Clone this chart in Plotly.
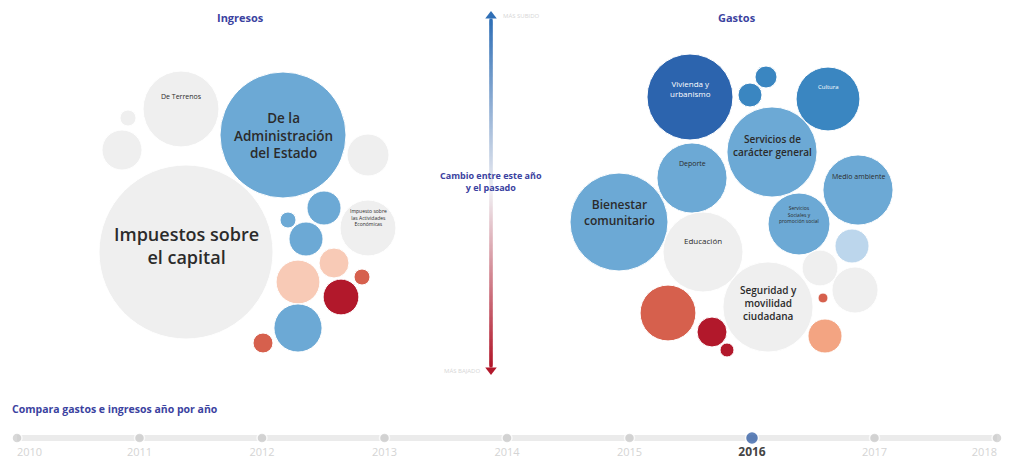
import numpy as np
import plotly.graph_objects as go

# ---------------- DATA ----------------
# Ingresos (income) bubbles: name, amount (M€), change vs previous year (%)
ing_names = ["De Terrenos", "De la<br>Administración<br>del Estado", "", "", "",
             "Impuestos sobre<br>el capital", "", "", "",
             "Impuesto sobre<br>las Actividades<br>Económicas", "", "", "", "", "", ""]
ing_amount = [14.4, 39.7, 0.64, 4.0, 4.4, 75.7, 2.9, 0.64, 2.9, 7.8, 4.8, 2.25, 0.64, 3.2, 5.8, 1.0]
ing_change = [0, 10, 0, 0, 0, 1, 10, 10, 10, 0, -3, -3, -20, -40, 10, -20]

# Gastos (spending) bubbles
gas_names = ["Vivienda y<br>urbanismo", "", "", "Cultura", "Servicios de<br>carácter general", "Deporte",
             "Medio ambiente", "Bienestar<br>comunitario", "Educación",
             "Servicios<br>Sociales y<br>promoción social", "", "", "",
             "Seguridad y<br>movilidad<br>ciudadana", "", "", "", "", ""]
gas_amount = [18.5, 1.21, 1.44, 10.2, 20.3, 12.3, 12.3, 24.0, 16.0, 9.6, 2.9, 3.2, 5.3, 20.3, 7.8, 2.25, 0.49, 0.25, 2.9]
gas_change = [40, 20, 20, 20, 10, 10, 12, 10, 0, 12, 3, 0, 0, 0, -20, -40, -40, -20, -10]

years = [2010, 2011, 2012, 2013, 2014, 2015, 2016, 2017, 2018]
selected_year = 2016

# ---------------- LAYOUT (packed-bubble positions, px) ----------------
ing_x = [181, 283, 128, 122, 368, 186, 324, 288, 306, 368, 298, 334, 362, 341, 298, 263]
ing_y = [109, 135, 118, 150, 155, 252, 208, 220, 239, 228, 282, 263, 277, 297, 328, 343]
ing_label_dy = [-13, 0, 0, 0, 0, -7, 0, 0, 0, -11, 0, 0, 0, 0, 0, 0]
ing_label_size = [7, 13.5, 0, 0, 0, 18, 0, 0, 0, 5, 0, 0, 0, 0, 0, 0]

gas_x = [690, 766, 750, 828, 772, 692, 858, 619, 703, 799, 852, 820, 855, 768, 668, 712, 727, 823, 825]
gas_y = [97, 77, 95, 99, 152, 178, 190, 222, 252, 224, 246, 268, 290, 307, 313, 332, 350, 298, 336]
gas_label_dy = [-9, 0, 0, -12, -7, -15, -14, -10, -12, -10, 0, 0, 0, -4, 0, 0, 0, 0, 0]
gas_label_size = [8, 0, 0, 6, 10, 7, 7, 12, 8, 5, 0, 0, 0, 10, 0, 0, 0, 0, 0]

RADIUS_K = 10.0  # px per sqrt(M€)

W, H = 1016, 462
OFF = 8  # page body margin
TITLE_COL = "#3b42a0"
FONT = "Open Sans"


def change_color(c):
    if c >= 30:
        return "#2c64ae"
    if c >= 15:
        return "#3a86c1"
    if c >= 5:
        return "#6ca9d5"
    if c >= 2:
        return "#bcd6ec"
    if c > -2:
        return "#efefef"
    if c > -5:
        return "#f8cab6"
    if c > -15:
        return "#f3a482"
    if c > -30:
        return "#d6604d"
    return "#b2182b"


def text_color(c):
    return "#ffffff" if c >= 15 else "#2b2b2b"


fig = go.Figure()

annotations = []
for xs, ys, amounts, changes, names, dys, sizes in [
    (ing_x, ing_y, ing_amount, ing_change, ing_names, ing_label_dy, ing_label_size),
    (gas_x, gas_y, gas_amount, gas_change, gas_names, gas_label_dy, gas_label_size),
]:
    diam = [2 * RADIUS_K * np.sqrt(a) for a in amounts]
    fig.add_trace(go.Scatter(
        x=xs, y=ys, mode="markers",
        marker=dict(size=diam, sizemode="diameter",
                    color=[change_color(c) for c in changes],
                    line=dict(color="white", width=1), opacity=1),
        hoverinfo="skip", showlegend=False))
    for x, y, n, c, dy, s in zip(xs, ys, names, changes, dys, sizes):
        if n and s:
            annotations.append(dict(
                x=x, y=y + dy, text=n, showarrow=False, xref="x", yref="y",
                font=dict(family=FONT, size=s, color=text_color(c),
                          weight=600 if s >= 9 else 400),
                align="center"))

# central gradient arrow
ay = np.linspace(20, 366, 300)
fig.add_trace(go.Scatter(
    x=[491] * len(ay), y=ay, mode="markers",
    marker=dict(symbol="square", size=3, color=ay,
                colorscale=[[0, "#2f6fb6"], [0.5, "#f0eef2"], [1, "#b2182b"]],
                line=dict(width=0)),
    hoverinfo="skip", showlegend=False))
fig.add_trace(go.Scatter(x=[491], y=[16], mode="markers",
                         marker=dict(symbol="triangle-up", size=10, color="#2f6fb6"),
                         hoverinfo="skip", showlegend=False))
fig.add_trace(go.Scatter(x=[491], y=[370], mode="markers",
                         marker=dict(symbol="triangle-down", size=10, color="#b2182b"),
                         hoverinfo="skip", showlegend=False))

# timeline on its own year axis
fig.add_trace(go.Scatter(
    x=[years[0], years[-1]], y=[438, 438], mode="lines", xaxis="x2",
    line=dict(color="#ebebeb", width=6), hoverinfo="skip", showlegend=False))
fig.add_trace(go.Scatter(
    x=years, y=[438] * len(years), mode="markers", xaxis="x2",
    marker=dict(size=[13 if yv == selected_year else 10 for yv in years],
                color=["#1f4f9e" if yv == selected_year else "#c8c8c8" for yv in years],
                line=dict(color="white", width=1.5)),
    hoverinfo="skip", showlegend=False))
fig.add_trace(go.Scatter(
    x=years, y=[453] * len(years), mode="text", xaxis="x2",
    text=[f"<b>{yv}</b>" if yv == selected_year else str(yv) for yv in years],
    textposition=["middle right" if i == 0 else ("middle left" if i == len(years) - 1 else "middle center")
                  for i in range(len(years))],
    textfont=dict(family=FONT, size=[12 if yv == selected_year else 11 for yv in years],
                  color=["#444444" if yv == selected_year else "#d4d4d4" for yv in years]),
    hoverinfo="skip", showlegend=False))

# titles and labels
extra = [
    dict(x=240, y=17, text="<b>Ingresos</b>", font=dict(family=FONT, size=11, color=TITLE_COL)),
    dict(x=737, y=17, text="<b>Gastos</b>", font=dict(family=FONT, size=11, color=TITLE_COL)),
    dict(x=491, y=181, text="<b>Cambio entre este año<br>y el pasado</b>",
         font=dict(family=FONT, size=9, color=TITLE_COL)),
    dict(x=501, y=16, text="MÁS SUBIDO", xanchor="left",
         font=dict(family=FONT, size=6, color="#d6d6d6")),
    dict(x=482, y=371, text="MÁS BAJADO", xanchor="right",
         font=dict(family=FONT, size=6, color="#d6d6d6")),
    dict(x=10, y=409, text="<b>Compara gastos e ingresos año por año</b>", xanchor="left",
         font=dict(family=FONT, size=10.5, color=TITLE_COL)),
]
for a in extra:
    a.update(showarrow=False, xref="x", yref="y")
annotations += extra

px_per_year = (997 - 17) / (years[-1] - years[0])
x2_lo = years[0] - (17 - OFF) / px_per_year
x2_hi = x2_lo + (W - OFF) / px_per_year

fig.update_layout(
    width=W - OFF, height=H - OFF, margin=dict(l=0, r=0, t=0, b=0),
    paper_bgcolor="white", plot_bgcolor="white",
    xaxis=dict(range=[OFF, W], visible=False, fixedrange=True),
    xaxis2=dict(range=[x2_lo, x2_hi], visible=False, overlaying="x", anchor="y"),
    yaxis=dict(range=[H, OFF], visible=False, fixedrange=True),
    annotations=annotations,
    font=dict(family=FONT),
)

fig.write_html("out.html")
